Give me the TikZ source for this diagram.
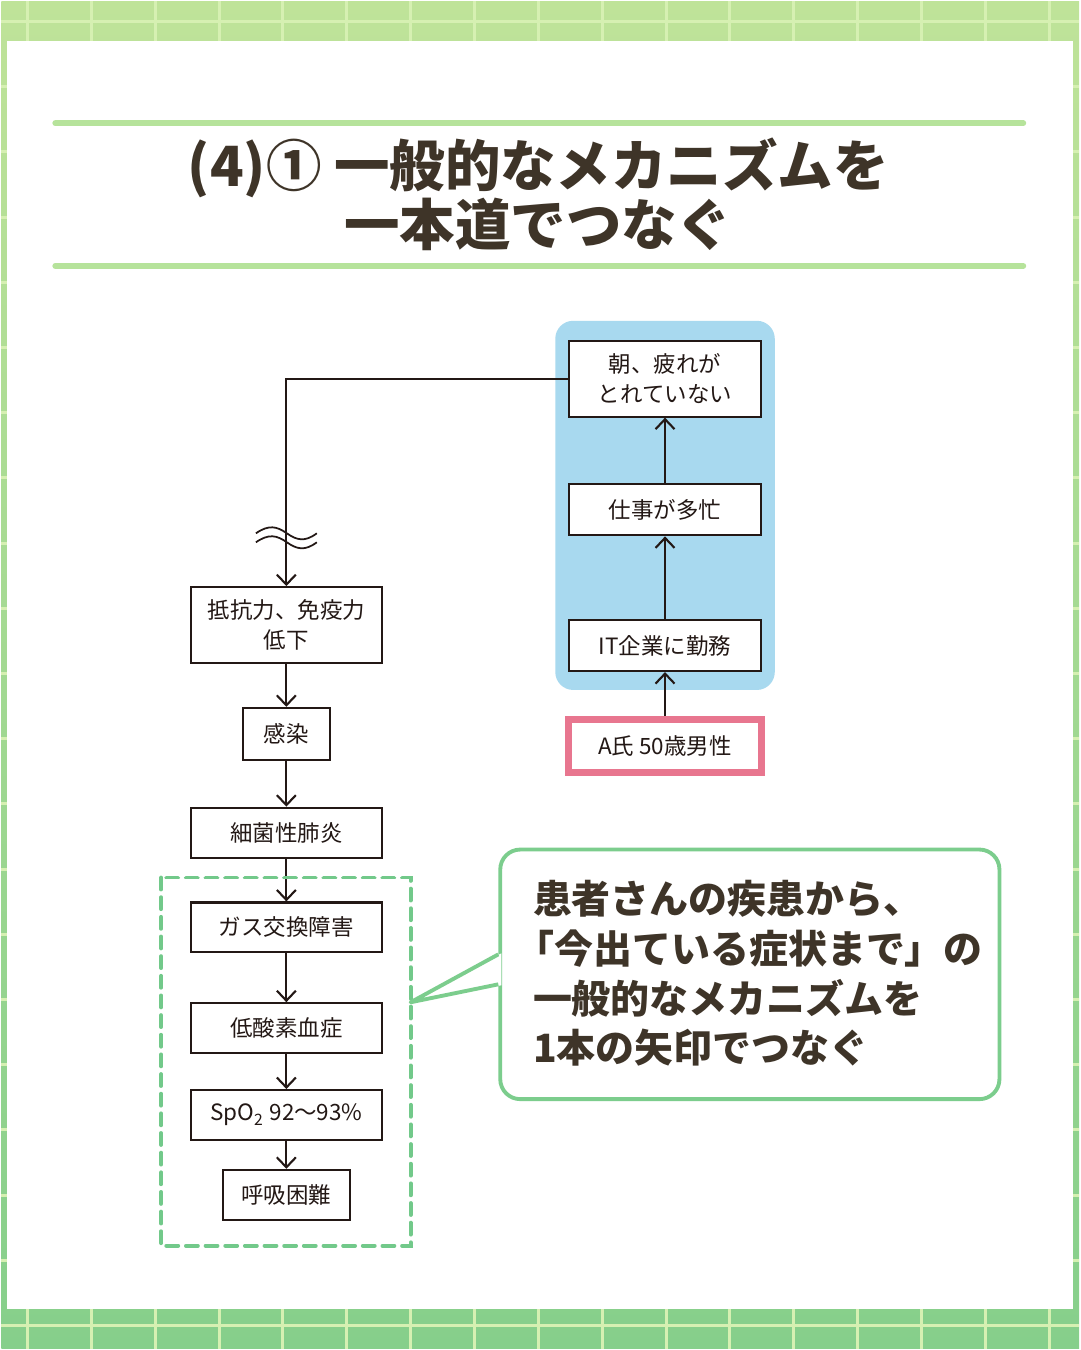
\documentclass[tikz,border=0pt]{standalone}
\usepackage{fontspec}
\setmainfont{Noto Sans CJK JP}
\usepackage{xcolor}
\usetikzlibrary{arrows.meta}
\definecolor{bgtop}{HTML}{BFE399}
\definecolor{bgbot}{HTML}{86CF8B}
\definecolor{gridln}{HTML}{D6F0B2}
\definecolor{rulegreen}{HTML}{B6E39B}
\definecolor{ink}{HTML}{231815}
\definecolor{titleink}{HTML}{3E3428}
\definecolor{panelblue}{HTML}{A8D9EF}
\definecolor{pinkline}{HTML}{E8768F}
\definecolor{dashgreen}{HTML}{72C98A}
\definecolor{callgreen}{HTML}{7CCD8D}
\tikzset{>={Straight Barb[length=1mm,width=1.9mm]}}
\tikzset{
	box/.style={draw=ink,line width=0.6pt,fill=white,inner sep=0pt,text=ink,align=center,
		font=\fontsize{6.4}{8.5}\selectfont},
	flow/.style={->,draw=ink,line width=0.6pt}
}

\begin{document}
\begin{tikzpicture}[x=0.01cm,y=-0.01cm]
	% background
	\shade[top color=bgtop,bottom color=bgbot] (0,0) rectangle (1080,1350);
	\foreach \gx in {26,90,...,1080} \draw[gridln,line width=0.85pt] (\gx,0) -- (\gx,1350);
	\foreach \gy in {20,85.35,...,1350} \draw[gridln,line width=0.85pt] (0,\gy) -- (1080,\gy);
	\fill[white] (6,40) rectangle (1074,1310);
	\useasboundingbox (0,0) rectangle (1080,1350);
	% title
	\draw[rulegreen,line width=1.7pt,line cap=round] (54,122) -- (1024,122);
	\draw[rulegreen,line width=1.7pt,line cap=round] (54,265) -- (1024,265);
	\node[font=\fontsize{15.8}{16.8}\selectfont\bfseries,text=titleink,align=center] (title) at (538,193) {(4)① 一般的なメカニズムを\\一本道でつなぐ};
	% right column
	\fill[panelblue,rounded corners=0.18cm] (555,320) rectangle (775,690);
	\node[box,minimum width=1.92cm,minimum height=0.76cm] (asa) at (665,378) {朝、疲れが\\とれていない};
	\node[box,minimum width=1.92cm,minimum height=0.51cm] (shigoto) at (665,509.5) {仕事が多忙};
	\node[box,minimum width=1.92cm,minimum height=0.51cm] (kigyo) at (665,645.5) {IT企業に勤務};
	\node[box,draw=pinkline,line width=2pt,minimum width=1.93cm,minimum height=0.53cm] (ashi) at (665,746) {A氏 50歳男性};
	\draw[flow] (ashi) -- (kigyo);
	\draw[flow] (kigyo) -- (shigoto);
	\draw[flow] (shigoto) -- (asa);
	% left column
	\node[box,minimum width=1.91cm,minimum height=0.76cm] (teiko) at (285.5,625) {抵抗力、免疫力\\低下};
	\node[box,minimum width=0.87cm,minimum height=0.52cm] (kansen) at (285.5,734) {感染};
	\node[box,minimum width=1.91cm,minimum height=0.50cm] (haien) at (285.5,833) {細菌性肺炎};
	\node[box,minimum width=1.91cm,minimum height=0.50cm] (gas) at (285.5,928) {ガス交換障害};
	\node[box,minimum width=1.91cm,minimum height=0.50cm] (teisanso) at (285.5,1029) {低酸素血症};
	\node[box,minimum width=1.91cm,minimum height=0.50cm] (spo) at (285.5,1116) {SpO\textsubscript{2} 92〜93\%};
	\node[box,minimum width=1.27cm,minimum height=0.50cm] (kokyu) at (285.5,1196) {呼吸困難};
	\draw[flow] (asa.west) -| (teiko.north);
	\draw[ink,line width=0.5pt] (255,533) .. controls (268,524) and (276,526) .. (286,533) .. controls (296,540) and (304,542) .. (316,533);
	\draw[ink,line width=0.5pt] (255,542) .. controls (268,533) and (276,535) .. (286,542) .. controls (296,549) and (304,551) .. (316,542);
	\draw[flow] (teiko) -- (kansen);
	\draw[flow] (kansen) -- (haien);
	\draw[flow] (haien) -- (gas);
	\draw[flow] (gas) -- (teisanso);
	\draw[flow] (teisanso) -- (spo);
	\draw[flow] (spo) -- (kokyu);
	\draw[dashgreen,line width=1.1pt,dash pattern=on 3.4pt off 2.2pt,line cap=round] (160,878) rectangle (410,1247);
	% callout
	\node[draw=callgreen,line width=1.1pt,rounded corners=0.2cm,fill=white,minimum width=5cm,minimum height=2.5cm] (callout) at (750,975) {};
	\coordinate (tip) at (410,1003);
	\fill[white] ([xshift=0.03cm,yshift=0.21cm]callout.west) -- (tip) -- ([xshift=0.03cm,yshift=-0.11cm]callout.west) -- cycle;
	\draw[callgreen,line width=1.1pt,line join=round] ([yshift=0.2cm]callout.west) -- (tip) -- ([yshift=-0.1cm]callout.west);
	\node[anchor=west,align=left,inner sep=0pt,text=titleink,font=\fontsize{11.1}{14.2}\selectfont\bfseries] (msg) at (532,974) {患者さんの疾患から、\\\hspace*{-0.45em}「今出ている症状まで」の\\一般的なメカニズムを\\1本の矢印でつなぐ};
\end{tikzpicture}
\end{document}
